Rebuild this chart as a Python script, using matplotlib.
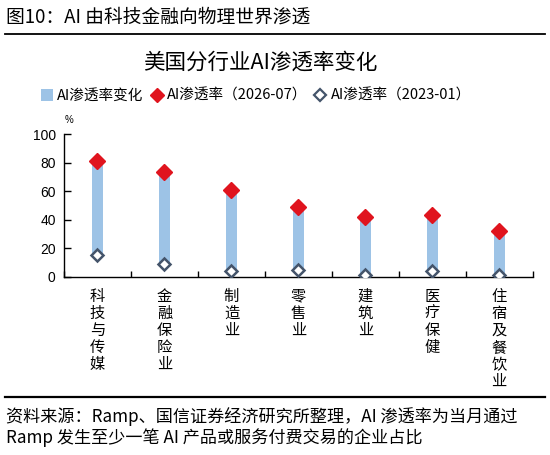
import matplotlib.pyplot as plt
from matplotlib.patches import Patch
from matplotlib.lines import Line2D
import numpy as np

plt.rcParams['font.family'] = ['Noto Sans CJK SC', 'DejaVu Sans']

# data
industries = ['科技与传媒', '金融保险业', '制造业', '零售业', '建筑业', '医疗保健', '住宿及餐饮业']
rate_2026_07 = [81, 73.5, 60.5, 49, 42, 43, 32]
rate_2023_01 = [15.5, 9, 4.2, 5, 1, 3.8, 1.4]
yticks = [0, 20, 40, 60, 80, 100]

bar_color = '#9DC3E6'
red = '#E0141E'
dark = '#44546A'

fig = plt.figure(figsize=(5.5, 4.55), dpi=100)
ax = fig.add_axes([64/550, 1-276.7/455, (532.7-64)/550, (276.7-134)/455])

x = np.arange(len(industries))
new = np.array(rate_2026_07)
old = np.array(rate_2023_01)
ax.bar(x, new - old, bottom=old, width=0.165, color=bar_color, zorder=1)
ax.plot(x, new, 'D', color=red, markersize=8, zorder=3, linestyle='none')
ax.plot(x, old, 'D', markerfacecolor='white', markeredgecolor=dark,
        markersize=6.5, markeredgewidth=1.8, zorder=3, linestyle='none')

ax.set_xlim(-0.5, len(industries) - 0.5)
ax.set_ylim(0, 100)
ax.set_yticks(yticks)
ax.set_yticklabels([str(v) for v in yticks], family='Liberation Sans', fontsize=10)
ax.tick_params(axis='y', direction='in', length=5, width=1, pad=6)

# category labels, written top to bottom
ax.set_xticks(x)
ax.set_xticklabels(['\n'.join(s) for s in industries], fontsize=11, linespacing=1.0, va='top')
ax.tick_params(axis='x', which='major', length=0, pad=8)
ax.set_xticks(np.arange(-0.5, len(industries)), minor=True)
ax.tick_params(axis='x', which='minor', direction='in', length=4, width=1)

ax.spines['top'].set_visible(False)
ax.spines['right'].set_visible(False)
ax.spines['left'].set_linewidth(1)
ax.spines['bottom'].set_linewidth(1)

fig.text(65/550, 1-120/455, '%', fontsize=7, ha='left', va='center', family='Liberation Sans')

# legend
handles = [
    Patch(facecolor=bar_color, edgecolor='none'),
    Line2D([], [], marker='D', color=red, linestyle='none', markersize=7),
    Line2D([], [], marker='D', markerfacecolor='white', markeredgecolor=dark,
           markeredgewidth=1.6, linestyle='none', markersize=6),
]
labels = ['AI渗透率变化', 'AI渗透率（2026-07）', 'AI渗透率（2023-01）']
fig.legend(handles, labels, loc='center', bbox_to_anchor=(256/550, 1-96/455), ncol=3,
           frameon=False, fontsize=10.5, handlelength=0.8, handletextpad=0.3,
           columnspacing=0.5, handleheight=0.8)

# titles and source
fig.text(6/550, 1-17/455, '图10：AI 由科技金融向物理世界渗透', fontsize=13.5, ha='left', va='center')
fig.add_artist(Line2D([5/550, 545/550], [1-33.5/455, 1-33.5/455], color='black', linewidth=1.3))
fig.text(260/550, 1-63/455, '美国分行业AI渗透率变化', fontsize=15.5, ha='center', va='center')
fig.add_artist(Line2D([5/550, 545/550], [1-396.7/455, 1-396.7/455], color='black', linewidth=1.6))
fig.text(6/550, 1-416.5/455, '资料来源：Ramp、国信证券经济研究所整理，AI 渗透率为当月通过',
         fontsize=12.3, ha='left', va='center')
fig.text(6/550, 1-438/455, 'Ramp 发生至少一笔 AI 产品或服务付费交易的企业占比',
         fontsize=12.3, ha='left', va='center')

fig.savefig('out.png', dpi=100)
